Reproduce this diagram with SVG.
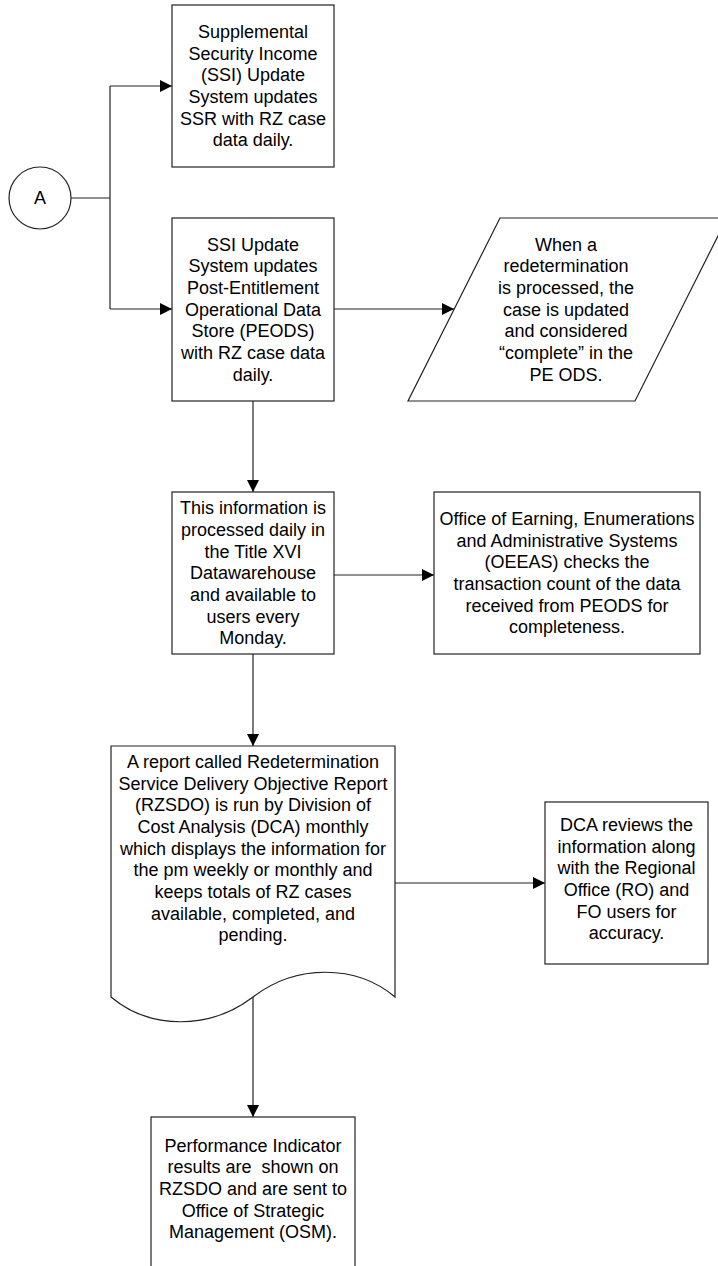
<svg xmlns="http://www.w3.org/2000/svg" width="718" height="1266" viewBox="0 0 718 1266">
<style>
.s{fill:#fff;stroke:#222;stroke-width:1.2}
.c{fill:none;stroke:#222;stroke-width:1.2}
.t{font-family:"Liberation Sans",Arial,sans-serif;font-size:18px;fill:#000;text-anchor:middle}
</style>
<defs>
<marker id="ar" markerUnits="userSpaceOnUse" markerWidth="12" markerHeight="12" refX="12" refY="6" orient="auto">
<path d="M0,0 L12,6 L0,12 Z" fill="#000"/>
</marker>
</defs>
<rect width="718" height="1266" fill="#fff"/>
<g id="connectors">
<path class="c" d="M71,198 H110"/>
<path class="c" d="M110,86 V309"/>
<path class="c" d="M110,86 H172" marker-end="url(#ar)"/>
<path class="c" d="M110,309 H172" marker-end="url(#ar)"/>
<path class="c" d="M334,309 H454" marker-end="url(#ar)"/>
<path class="c" d="M253,401 V492" marker-end="url(#ar)"/>
<path class="c" d="M334,575 H434" marker-end="url(#ar)"/>
<path class="c" d="M253,654 V746" marker-end="url(#ar)"/>
<path class="c" d="M395,883 H545" marker-end="url(#ar)"/>
<path class="c" d="M253,997 V1117" marker-end="url(#ar)"/>
</g>
<g id="nodeA">
<circle class="s" cx="40" cy="198" r="31"/>
<text class="t" x="40" y="204">A</text>
</g>
<g id="ssi-ssr">
<rect class="s" x="172" y="5" width="162" height="162"/>
<text class="t" x="253" y="38"><tspan x="253">Supplemental</tspan><tspan x="253" dy="21.67">Security Income</tspan><tspan x="253" dy="21.67">(SSI) Update</tspan><tspan x="253" dy="21.67">System updates</tspan><tspan x="253" dy="21.67">SSR with RZ case</tspan><tspan x="253" dy="21.67">data daily.</tspan></text>
</g>
<g id="ssi-peods">
<rect class="s" x="172" y="218" width="162" height="183"/>
<text class="t" x="253" y="250.5"><tspan x="253">SSI Update</tspan><tspan x="253" dy="21.67">System updates</tspan><tspan x="253" dy="21.67">Post-Entitlement</tspan><tspan x="253" dy="21.67">Operational Data</tspan><tspan x="253" dy="21.67">Store (PEODS)</tspan><tspan x="253" dy="21.67">with RZ case data</tspan><tspan x="253" dy="21.67">daily.</tspan></text>
</g>
<g id="complete">
<polygon class="s" points="500,218 727,218 635,401 408,401"/>
<text class="t" x="566" y="250.5"><tspan x="566">When a</tspan><tspan x="566" dy="21.67">redetermination</tspan><tspan x="566" dy="21.67">is processed, the</tspan><tspan x="566" dy="21.67">case is updated</tspan><tspan x="566" dy="21.67">and considered</tspan><tspan x="566" dy="21.67">“complete” in the</tspan><tspan x="566" dy="21.67">PE ODS.</tspan></text>
</g>
<g id="datawarehouse">
<rect class="s" x="172" y="492" width="162" height="162"/>
<text class="t" x="253" y="514.3"><tspan x="253">This information is</tspan><tspan x="253" dy="21.67">processed daily in</tspan><tspan x="253" dy="21.67">the Title XVI</tspan><tspan x="253" dy="21.67">Datawarehouse</tspan><tspan x="253" dy="21.67">and available to</tspan><tspan x="253" dy="21.67">users every</tspan><tspan x="253" dy="21.67">Monday.</tspan></text>
</g>
<g id="oeeas">
<rect class="s" x="434" y="492" width="266" height="162"/>
<text class="t" x="567" y="525"><tspan x="567">Office of Earning, Enumerations</tspan><tspan x="567" dy="21.67">and Administrative Systems</tspan><tspan x="567" dy="21.67">(OEEAS) checks the</tspan><tspan x="567" dy="21.67">transaction count of the data</tspan><tspan x="567" dy="21.67">received from PEODS for</tspan><tspan x="567" dy="21.67">completeness.</tspan></text>
</g>
<g id="rzsdo-report">
<path class="s" d="M111,746 H395 V997 C356,964 296,964 253,997 C210,1030 150,1030 111,997 Z"/>
<text class="t" x="253" y="768"><tspan x="253">A report called Redetermination</tspan><tspan x="253" dy="21.67">Service Delivery Objective Report</tspan><tspan x="253" dy="21.67">(RZSDO) is run by Division of</tspan><tspan x="253" dy="21.67">Cost Analysis (DCA) monthly</tspan><tspan x="253" dy="21.67">which displays the information for</tspan><tspan x="253" dy="21.67">the pm weekly or monthly and</tspan><tspan x="253" dy="21.67">keeps totals of RZ cases</tspan><tspan x="253" dy="21.67">available, completed, and</tspan><tspan x="253" dy="21.67">pending.</tspan></text>
</g>
<g id="dca-review">
<rect class="s" x="545" y="802" width="163" height="162"/>
<text class="t" x="626.5" y="831"><tspan x="626.5">DCA reviews the</tspan><tspan x="626.5" dy="21.67">information along</tspan><tspan x="626.5" dy="21.67">with the Regional</tspan><tspan x="626.5" dy="21.67">Office (RO) and</tspan><tspan x="626.5" dy="21.67">FO users for</tspan><tspan x="626.5" dy="21.67">accuracy.</tspan></text>
</g>
<g id="osm">
<rect class="s" x="151" y="1117" width="204" height="170"/>
<text class="t" x="253" y="1151.7" style="white-space:pre"><tspan x="253">Performance Indicator</tspan><tspan x="253" dy="21.67">results are  shown on</tspan><tspan x="253" dy="21.67">RZSDO and are sent to</tspan><tspan x="253" dy="21.67">Office of Strategic</tspan><tspan x="253" dy="21.67">Management (OSM).</tspan></text>
</g>
</svg>
